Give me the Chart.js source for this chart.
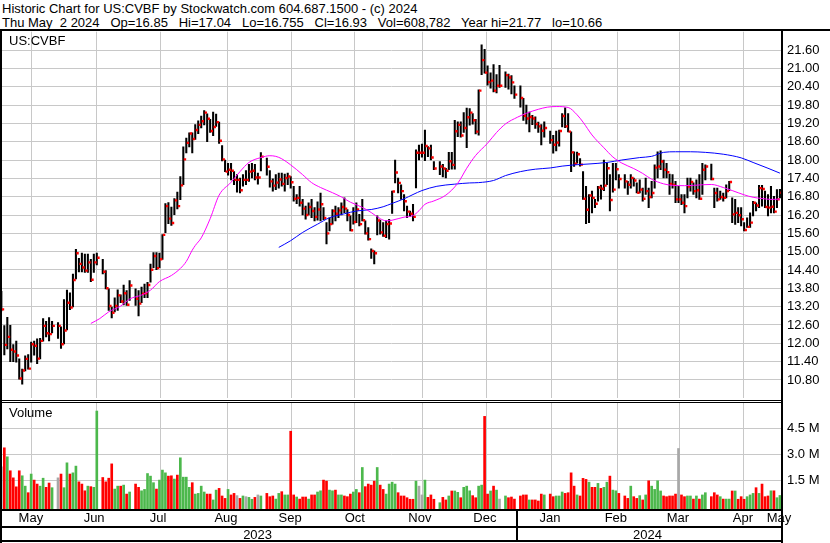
<!DOCTYPE html>
<html lang="en">
<head>
<meta charset="UTF-8" />
<title>Historic Chart for US:CVBF</title>
<script src="https://cdn.jsdelivr.net/npm/chart.js"></script>
<style>
  body { margin: 0; background: #fff; font-family: Arial, "Liberation Sans", sans-serif; color: #000; }
  #page { position: relative; width: 830px; height: 543px; overflow: hidden; background: #fff; }
  .txt { position: absolute; font-size: 13px; line-height: 14px; white-space: pre; }
  canvas { position: absolute; left: 0; }
  .rule { position: absolute; background: #000; }
</style>
</head>
<body>
<div id="page">
  <div class="txt" style="left:2px; top:2px;">Historic Chart for US:CVBF by Stockwatch.com 604.687.1500 - (c) 2024</div>
  <div class="txt" style="left:2px; top:16px;">Thu May  2 2024   Op=16.85   Hi=17.04   Lo=16.755   Cl=16.93   Vol=608,782   Year hi=21.77   lo=10.66</div>

  <canvas id="priceChart" width="830" height="370" style="top:30px"></canvas>
  <canvas id="volChart" width="830" height="140" style="top:403px"></canvas>

  <div class="txt" style="left:9px; top:34px;">US:CVBF</div>
  <div class="txt" style="left:9px; top:406px;">Volume</div>

  <div class="rule" style="left:0; top:29px; width:830px; height:2px;"></div>
  <div class="rule" style="left:0; top:29px; width:2px; height:514px;"></div>
  <div class="rule" style="left:781px; top:29px; width:2px; height:514px;"></div>
  <div class="rule" style="left:0; top:400px; width:783px; height:1px;"></div>
  <div class="rule" style="left:0; top:402px; width:783px; height:1px;"></div>
</div>

<script>
// one slot per weekday, 3 May 2023 .. 2 May 2024 (null = market holiday)
const HIGH = [
  13.70,12.58,12.85,12.59,11.96,12.07,11.49,11.16,11.59,11.63,12.04,12.07,12.15,12.16,12.81,12.72,12.84,12.72,null,12.68,12.54, // May
  13.43,13.74,13.65,14.27,15.08,14.78,14.95,14.92,14.92,14.75,14.92,14.95,null,14.75,14.38,13.78,13.19,13.49,13.75,13.59,13.91,13.73, // Jun
  14.05,null,13.78,13.73,13.84,13.94,14.00,14.59,14.97,14.97,14.95,15.56,16.57,16.61,16.46,16.74,16.95,17.46,18.43,18.72,18.89, // Jul
  18.89,19.16,19.28,19.44,19.62,19.51,19.33,19.57,19.50,19.24,18.47,18.00,17.89,17.89,17.62,17.52,17.41,17.52,17.65,17.86,17.89,17.86,17.57, // Aug
  18.24,null,18.06,17.65,17.38,17.52,17.57,17.57,17.54,17.57,17.46,17.14,16.87,17.14,16.71,16.49,16.60,16.71,16.44,16.63,16.92, // Sep
  16.44,15.95,16.11,16.38,16.49,16.44,16.60,16.76,16.38,16.17,16.44,16.60,16.22,16.71,16.01,15.79,15.09,15.03,16.17,16.03,15.95,16.01, // Oct
  16.06,16.98,18.00,17.41,17.19,16.87,16.49,16.33,16.55,18.33,18.49,18.52,18.98,18.44,18.49,17.95,null,17.95,17.86,17.73,18.25,18.25, // Nov
  19.30,19.25,19.25,19.55,19.70,19.68,19.52,19.33,20.30,21.77,21.62,21.08,20.85,21.12,20.80,21.10,null,20.89,20.81,20.76,20.43, // Dec
  null,20.43,20.02,19.80,19.57,19.46,19.41,19.24,19.16,19.25,null,18.95,18.81,18.95,18.98,19.52,19.71,19.52,18.92,18.27,18.26,18.05,17.62, // Jan
  17.14,16.87,16.98,16.71,17.14,17.18,18.00,17.89,17.52,17.89,17.89,17.52,null,17.52,17.30,17.52,17.41,17.25,17.35,17.08,17.41, // Feb
  17.08,17.30,17.84,18.27,18.30,18.00,17.89,17.54,17.52,17.30,17.14,16.87,16.87,17.41,17.41,17.25,17.35,17.52,17.89,17.84,null, // Mar
  17.87,17.08,17.08,16.98,16.92,17.19,17.30,16.76,16.71,16.44,16.44,15.95,16.11,16.27,16.65,16.60,17.17,17.17,16.98,16.87,17.14,16.81, // Apr
  17.03,17.04 // May
];
const LOW = [
  13.06,11.62,11.82,11.40,11.40,11.38,10.83,10.66,11.10,11.15,11.38,11.61,11.33,11.49,12.07,12.21,12.08,12.34,null,12.16,11.83,
  11.98,12.44,13.10,13.19,14.11,14.34,14.34,14.32,14.32,14.02,14.32,14.57,null,14.27,13.78,13.08,12.83,13.03,13.08,13.33,13.26,13.24,
  13.40,null,13.24,12.90,13.33,13.49,13.49,14.00,14.48,14.41,14.48,14.75,15.62,15.92,15.86,16.21,16.40,16.70,17.19,18.23,18.43,
  18.23,18.67,18.86,19.05,19.15,18.60,18.90,18.80,19.10,18.54,17.97,17.62,17.50,17.35,17.19,16.95,16.92,17.14,17.19,17.30,17.41,17.35,17.21,
  17.64,null,17.50,17.11,16.98,17.03,17.08,17.14,16.98,17.19,17.08,16.65,16.57,16.49,16.20,16.06,16.20,16.11,16.01,16.03,16.01,
  16.05,15.25,15.68,15.90,16.01,16.11,16.20,16.28,16.01,15.68,15.90,15.95,15.84,16.01,15.57,15.38,14.78,14.60,15.55,15.57,15.50,15.46,
  15.41,16.25,17.25,16.92,16.71,16.33,16.11,16.15,16.01,17.09,18.00,18.09,17.98,18.11,18.00,17.68,null,17.52,17.45,17.41,17.68,17.70,
  17.70,18.76,18.75,18.90,18.40,19.14,19.17,18.85,18.81,20.79,20.84,20.45,20.35,20.23,20.20,20.38,null,20.38,20.32,20.16,20.02,
  null,19.73,19.30,19.18,18.92,19.16,19.03,18.90,18.49,18.75,null,18.54,18.22,18.30,18.45,19.08,19.06,18.92,17.62,17.79,17.90,17.80,16.71,
  15.92,15.95,16.27,16.44,16.65,16.72,17.00,17.19,16.33,16.95,17.35,17.08,null,17.08,16.87,17.08,17.14,16.92,16.92,16.65,16.87,
  16.44,16.76,17.08,17.41,17.68,17.41,17.41,16.87,17.08,16.60,16.60,16.54,16.27,16.76,16.98,16.87,16.76,16.71,16.87,17.35,null,
  17.35,16.44,16.65,16.71,16.65,16.76,17.00,15.95,15.89,15.95,15.84,15.68,15.79,15.79,16.17,16.33,16.44,16.49,16.44,16.17,16.27,16.27,
  16.44,16.755
];
const CLOSE = [
  13.11,11.95,12.21,11.79,11.73,11.60,10.85,11.11,11.49,11.17,11.97,11.92,11.50,12.08,12.57,12.33,12.30,12.57,null,12.57,11.97,
  12.42,13.33,13.17,14.07,14.95,14.60,14.48,14.38,14.65,14.08,14.65,14.80,null,14.34,13.80,13.22,13.00,13.22,13.57,13.37,13.64,13.26,
  13.89,null,13.46,13.30,13.62,13.64,13.91,14.41,14.86,14.46,14.75,15.55,16.49,16.08,15.94,16.68,16.49,17.17,18.02,18.56,18.87,
  18.69,18.98,19.15,19.27,19.55,19.35,18.95,19.08,19.24,18.63,18.02,17.62,17.68,17.65,17.35,17.35,17.01,17.35,17.35,17.62,17.65,17.43,17.43,
  18.11,null,17.78,17.30,17.16,17.26,17.36,17.22,17.41,17.46,17.27,16.73,16.76,16.60,16.41,16.20,16.46,16.33,16.14,16.38,16.55,
  16.10,15.60,15.90,16.33,16.24,16.35,16.46,16.41,16.20,15.70,15.97,16.38,15.90,16.03,15.60,15.41,15.02,14.95,16.02,15.63,15.52,15.90,
  15.92,16.97,17.59,17.25,16.98,16.65,16.31,16.24,16.14,18.24,18.24,18.24,18.46,18.38,18.08,17.72,null,17.79,17.72,17.65,17.96,17.84,
  18.94,19.15,18.80,19.05,19.40,19.55,19.30,18.93,20.27,21.27,20.86,20.55,20.60,20.27,20.43,20.43,null,20.78,20.70,20.54,20.14,
  null,20.03,19.45,19.36,19.41,19.36,19.18,19.10,18.96,19.05,null,18.65,18.50,18.57,18.95,19.44,19.10,18.93,18.25,17.88,18.19,17.85,16.73,
  16.37,16.84,16.76,16.57,17.10,17.06,17.16,17.73,16.69,17.03,17.70,17.38,null,17.30,17.19,17.41,17.33,16.93,17.03,16.73,16.98,
  16.79,16.92,17.75,17.79,17.95,17.68,17.60,17.22,17.18,16.71,16.71,16.60,16.49,17.13,17.28,16.98,17.01,16.73,17.68,17.79,null,
  17.38,16.92,16.71,16.79,16.76,16.98,17.28,16.22,16.27,16.19,16.06,15.71,15.81,15.95,16.60,16.51,17.08,17.05,16.46,16.44,16.47,16.31,
  16.71,16.93
];
// volume in millions of shares
const VOLUME_M = [
  2.27,3.37,2.85,2.04,1.63,1.11,2.04,1.75,1.15,0.77,1.85,1.50,1.27,1.15,1.61,1.08,1.33,1.06,null,1.63,1.85,
  1.06,2.50,1.85,1.92,2.31,1.40,1.27,0.88,1.15,1.12,1.08,5.50,null,1.65,1.40,1.61,2.44,0.98,1.15,1.15,1.21,0.69,
  0.81,null,1.27,1.08,0.88,0.96,1.88,1.73,1.35,0.98,1.50,2.08,1.92,1.73,1.75,1.56,1.79,2.79,1.67,1.67,1.08,
  1.35,0.69,0.73,1.15,0.81,0.69,0.69,0.35,0.92,1.02,0.58,0.44,0.96,0.64,0.73,0.60,0.44,0.58,0.54,0.50,0.39,0.50,0.64,
  0.58,null,0.73,0.54,0.58,0.40,0.73,0.83,0.64,0.64,4.33,0.64,0.52,0.40,0.52,0.52,0.40,0.64,0.64,0.81,0.88,
  1.50,1.44,0.92,0.88,0.92,0.64,0.64,0.58,0.54,0.69,0.81,0.96,0.77,2.23,1.12,1.27,1.21,1.44,2.23,1.21,0.96,0.69,
  1.27,1.38,1.27,0.77,0.58,0.58,0.48,0.39,0.39,1.44,1.15,0.64,1.50,0.50,0.64,0.39,null,0.19,0.50,0.35,0.58,0.87,
  0.87,0.79,0.48,1.08,1.15,0.88,0.60,0.48,1.15,1.21,5.19,0.69,0.87,1.15,0.92,0.40,null,0.58,0.48,0.52,0.40,
  null,0.58,0.64,0.64,0.35,0.35,0.35,0.29,0.69,0.64,null,0.69,0.54,0.58,0.58,0.81,0.73,0.77,1.92,1.15,0.64,0.58,1.60,
  1.54,1.38,1.08,1.08,1.31,1.02,1.08,1.38,1.73,0.92,0.88,0.73,null,0.58,0.44,1.15,0.54,0.44,0.60,0.35,0.64,
  1.46,1.15,0.96,1.46,0.87,0.58,0.54,0.58,0.58,0.69,3.33,0.64,0.54,0.58,0.58,0.40,0.58,0.40,0.64,0.77,null,
  0.54,0.77,0.64,0.54,0.40,0.40,0.40,0.87,0.87,0.39,0.54,0.39,0.54,0.64,0.73,1.06,0.73,1.27,0.54,0.58,0.88,0.88,
  0.48,0.61
];

// moving averages at these slots
const MA_FAST_AT  = [30,33,36,40,43,47,50,53,57,60,62,64,65,67,70,73,77,80,83,87,90,92,94,97,101,104,107,111,114,117,121,124,127,129,131,135,138,140,142,145,149,153,156,159,163,166,169,173,176,180,183,186,190,193,195,198,202,205,208,212,215,218,222,225,229,232,235,238,242,245,249,252,255,258,261];
const MA_FAST_VAL = [12.65,12.81,13.03,13.22,13.45,13.58,13.74,14.02,14.22,14.45,14.68,15.05,15.20,15.45,16.08,16.85,17.27,17.62,17.92,18.08,18.14,18.12,18.04,17.84,17.52,17.26,17.10,16.93,16.79,16.62,16.45,16.28,16.08,16.01,16.03,16.13,16.18,16.34,16.55,16.66,16.85,17.24,17.73,18.15,18.55,18.90,19.18,19.40,19.53,19.66,19.73,19.75,19.72,19.48,19.24,18.82,18.40,18.10,17.90,17.72,17.56,17.37,17.22,17.17,17.16,17.17,17.19,17.20,17.10,17.00,16.86,16.78,16.74,16.71,16.72];
const MA_SLOW_AT  = [93,97,101,106,110,115,119,124,128,131,135,138,141,146,152,157,160,165,169,174,179,184,188,192,197,203,208,214,218,222,226,231,236,242,248,252,257,261];
const MA_SLOW_VAL = [15.14,15.36,15.63,15.90,16.11,16.24,16.33,16.38,16.47,16.58,16.73,16.87,17.00,17.14,17.21,17.25,17.26,17.33,17.49,17.62,17.70,17.74,17.80,17.84,17.87,17.92,18.00,18.08,18.12,18.25,18.27,18.27,18.25,18.19,18.07,17.92,17.73,17.57];

const PRICE_TICKS = [10.8,11.4,12.0,12.6,13.2,13.8,14.4,15.0,15.6,16.2,16.8,17.4,18.0,18.6,19.2,19.8,20.4,21.0,21.6];
const VOLUME_TICKS_M = [1.5, 3.0, 4.5];

// month grid lines (slot positions) and labels
const MONTH_STARTS = [21, 42.5, 64.3, 87.4, 107.1, 130, 152.1, 173, 196, 216.8, 237.9, 260];
const MONTH_LABELS = ['May','Jun','Jul','Aug','Sep','Oct','Nov','Dec','Jan','Feb','Mar','Apr','May'];
const MONTH_LABEL_AT = [9.9, 31.1, 52.5, 75.3, 96.8, 118.5, 140.3, 162.1, 183.9, 206.0, 226.8, 248.6, 260.7];
const YEAR_LABELS = ['2023', '2024'];
const YEAR_LABEL_AT = [85.9, 216.6];
const YEAR_SPLIT = 173;

const X_MIN = 0.22, X_MAX = 261.36;
const PRICE_MIN = 10.2, PRICE_MAX = 22.2;
const VOL_MIN = -0.174, VOL_MAX = 5.965;
const CLOSE_SHIFT = 0.55;
const AXIS_W = 49;
const GRID = '#c8c8c8';
const FONT = { family: 'Arial, "Liberation Sans", sans-serif', size: 13 };
const UP = '#4cb84c', DOWN = '#ff0000', FLAT = '#a8a8a8';

const ranges = [], closes = [], vols = [], volColors = [];
let prevClose = null;
HIGH.forEach((h, i) => {
  if (h === null) return;
  ranges.push({ x: i, y: [LOW[i], h] });
  closes.push({ x: i + CLOSE_SHIFT, y: CLOSE[i] });
  vols.push({ x: i, y: VOLUME_M[i] });
  if (prevClose === null || CLOSE[i] === prevClose) volColors.push(FLAT);
  else volColors.push(CLOSE[i] > prevClose ? UP : DOWN);
  prevClose = CLOSE[i];
});
const fastMA = MA_FAST_AT.map((x, i) => ({ x, y: MA_FAST_VAL[i] }));
const slowMA = MA_SLOW_AT.map((x, i) => ({ x, y: MA_SLOW_VAL[i] }));

function monthAxis() {
  return {
    type: 'linear', min: X_MIN, max: X_MAX, offset: false,
    grid: { color: GRID, lineWidth: 1, drawTicks: false },
    border: { display: false },
    ticks: { display: false },
    afterBuildTicks: s => { s.ticks = MONTH_STARTS.map(v => ({ value: v })); },
    afterFit: s => { s.height = 0; }
  };
}

function rightAxis(min, max, ticks, fmt) {
  return {
    position: 'right', min, max,
    grid: { color: GRID, lineWidth: 1, drawTicks: false },
    border: { display: false },
    ticks: { color: '#000', font: FONT, padding: 6, autoSkip: false, callback: fmt },
    afterBuildTicks: s => { s.ticks = ticks.map(v => ({ value: v })); },
    afterFit: s => { s.width = AXIS_W; s.paddingTop = 0; s.paddingBottom = 0; }
  };
}

const common = {
  responsive: false, animation: false, devicePixelRatio: 1, events: [],
  plugins: { legend: { display: false }, tooltip: { enabled: false } }
};

new Chart(document.getElementById('priceChart'), {
  type: 'bar',
  data: {
    datasets: [
      { type: 'line', data: fastMA, borderColor: '#ff00ff', borderWidth: 1, pointRadius: 0, cubicInterpolationMode: 'monotone', order: 1 },
      { type: 'line', data: slowMA, borderColor: '#0000ff', borderWidth: 1, pointRadius: 0, cubicInterpolationMode: 'monotone', order: 1 },
      { type: 'line', data: closes, showLine: false, pointStyle: 'rect', pointRadius: 1.7,
        pointBackgroundColor: '#ff0000', pointBorderWidth: 0, pointHoverRadius: 0, order: 2 },
      { type: 'bar', data: ranges, backgroundColor: '#000', barThickness: 1.4, order: 3 }
    ]
  },
  options: {
    ...common,
    layout: { padding: { left: 2, right: 0, top: 0, bottom: 0 } },
    scales: {
      x: monthAxis(),
      y: rightAxis(PRICE_MIN, PRICE_MAX, PRICE_TICKS, v => v.toFixed(2))
    }
  }
});

// month and year rows under the volume panel
const dateRows = {
  id: 'dateRows',
  afterDraw(chart) {
    const ctx = chart.ctx;
    const xs = chart.scales.x;
    const b = chart.chartArea.bottom;
    ctx.save();
    ctx.fillStyle = '#000';
    ctx.fillRect(0, b, 783, 2);
    ctx.fillRect(0, b + 17, 783, 2);
    ctx.fillRect(0, b + 31, 783, 2);
    const sx = Math.round(xs.getPixelForValue(YEAR_SPLIT));
    ctx.fillRect(sx - 1, b, 2, 33);
    ctx.font = '13px Arial, "Liberation Sans", sans-serif';
    ctx.textAlign = 'center';
    ctx.textBaseline = 'alphabetic';
    MONTH_LABELS.forEach((m, i) => ctx.fillText(m, xs.getPixelForValue(MONTH_LABEL_AT[i]), b + 13));
    YEAR_LABELS.forEach((y, i) => ctx.fillText(y, xs.getPixelForValue(YEAR_LABEL_AT[i]), b + 30));
    ctx.restore();
  }
};

new Chart(document.getElementById('volChart'), {
  type: 'bar',
  data: {
    datasets: [
      { data: vols, backgroundColor: volColors, barThickness: 2, base: VOL_MIN }
    ]
  },
  options: {
    ...common,
    layout: { padding: { left: 2, right: 0, top: 0, bottom: 34 } },
    scales: {
      x: monthAxis(),
      y: rightAxis(VOL_MIN, VOL_MAX, VOLUME_TICKS_M, v => v.toFixed(1) + ' M')
    }
  },
  plugins: [dateRows]
});
</script>
</body>
</html>
